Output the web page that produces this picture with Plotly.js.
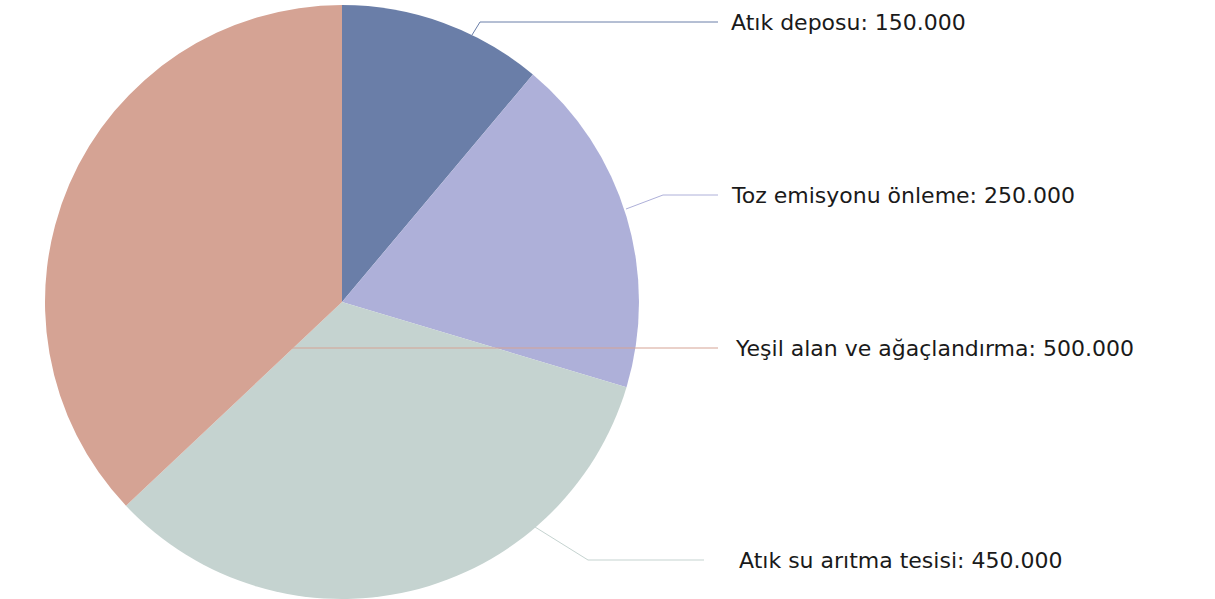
<!DOCTYPE html>
<html>
<head>
<meta charset="utf-8">
<script src="https://cdn.plot.ly/plotly-3.0.1.min.js"></script>
<style>
	html, body { margin: 0; padding: 0; background: #fff; }
	#chart { width: 1215px; height: 599px; }
</style>
</head>
<body>
<div id="chart"></div>
<script>
var W = 1215, H = 599;
var TOP = 5;

// slice order (clockwise from 12 o'clock)
var categories = ["Atık deposu", "Toz emisyonu önleme", "Atık su arıtma tesisi", "Yeşil alan ve ağaçlandırma"];
var values = [150000, 250000, 450000, 500000];
var colors = ["#6a7ea8", "#aeb0d9", "#c5d3d0", "#d5a394"];

// label text (Turkish thousands separator)
var valueLabels = ["150.000", "250.000", "450.000", "500.000"];

// leader line geometry, pixels: [start, elbow, end] and text x
var leaders = [
	[[472, 35], [480, 22], [718, 22]],
	[[626, 209], [663, 195], [718, 195]],
	[[535, 527], [588, 560], [704, 560]],
	[[292, 348], [292, 348], [718, 348]]
];
var textX = [729, 729, 737, 733];

// page pixels -> paper coords (paper starts under the top margin)
function px(x) { return x / W; }
function py(y) { return 1 - (y - TOP) / (H - TOP); }

var shapes = [];
var annotations = [];
for (var i = 0; i < categories.length; i++) {
	var p = leaders[i];
	shapes.push({
		type: "path",
		xref: "paper",
		yref: "paper",
		path: "M" + px(p[0][0]) + "," + py(p[0][1]) +
			" L" + px(p[1][0]) + "," + py(p[1][1]) +
			" L" + px(p[2][0]) + "," + py(p[2][1]),
		line: { color: colors[i], width: 1 }
	});
	annotations.push({
		xref: "paper",
		yref: "paper",
		x: px(textX[i]),
		y: py(p[2][1]),
		xanchor: "left",
		yanchor: "middle",
		showarrow: false,
		text: categories[i] + ": " + valueLabels[i],
		font: { family: "DejaVu Sans", size: 22, color: "#1a1a1a" }
	});
}

var pie = {
	type: "pie",
	labels: categories,
	values: values,
	sort: false,
	direction: "clockwise",
	rotation: 0,
	textinfo: "none",
	hoverinfo: "label+value",
	marker: { colors: colors, line: { width: 0 } },
	domain: { x: [(342 - 297) / W, (342 + 297) / W], y: [0, 1] }
};

var layout = {
	width: W,
	height: H,
	margin: { l: 0, r: 0, t: TOP, b: 0 },
	showlegend: false,
	paper_bgcolor: "#ffffff",
	shapes: shapes,
	annotations: annotations
};

Plotly.newPlot("chart", [pie], layout, { displayModeBar: false, staticPlot: true });
</script>
</body>
</html>
